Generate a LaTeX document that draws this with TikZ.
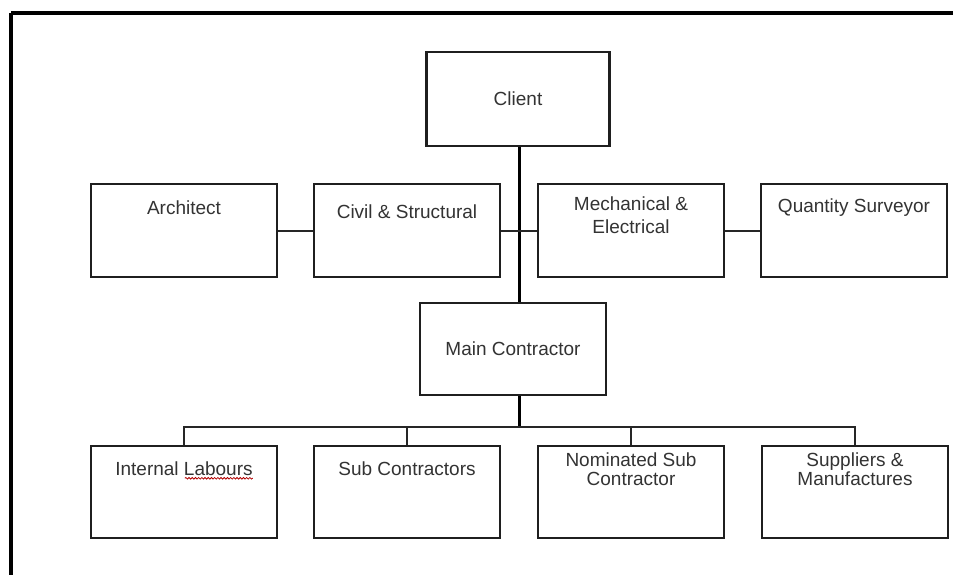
\documentclass[tikz,border=0pt]{standalone}
\usepackage{fontspec}
\setmainfont{Liberation Sans}
\usetikzlibrary{decorations.pathmorphing,calc}
\begin{document}
\begin{tikzpicture}[x=1pt,y=-1pt,
 box/.style={draw=black!88, line width=2.4pt, minimum width=186pt, minimum height=93pt, inner sep=0pt},
 lbl/.style={font=\fontsize{19}{23}\selectfont, text=black!80, align=center, inner sep=0pt},
 tight/.style={font=\fontsize{19}{19.5}\selectfont},
 conn/.style={draw=black!85, line width=2pt},
 trunkline/.style={draw=black, line width=3pt},
 frameline/.style={draw=black, line width=4pt},
 squiggle/.style={draw=red!70!black, line width=0.8pt, decorate, decoration={snake, amplitude=0.8pt, segment length=3.2pt}}]
\useasboundingbox (0,0) rectangle (953,575);
\fill[white] (0,0) rectangle (953,575);
% frame
\coordinate (fTL) at (11,13);
\coordinate (fTR) at (953,13);
\coordinate (fBL) at (11,575);
\draw[frameline] (fTR) -- (fTL);
\draw[frameline, line width=3.4pt] (fTL) -- (fBL);
% boxes
\node[box, minimum width=183pt, minimum height=94pt, lbl] (client) at (518,99) {Client};
\node[box] (arch) at (184,230.5) {};
\node[box] (civil) at (407,230.5) {};
\node[box] (mech) at (631,230.5) {};
\node[box] (qs) at (854,230.5) {};
\node[box, minimum height=92pt, lbl] (main) at (513,349) {Main Contractor};
\node[box, minimum height=92pt] (il) at (184,492) {};
\node[box, minimum height=92pt] (sc) at (407,492) {};
\node[box, minimum height=92pt] (ns) at (631,492) {};
\node[box, minimum height=92pt] (sm) at (855,492) {};
% labels
\node[lbl] (archt) at (184,208) {Architect};
\node[lbl] (civilt) at (407,212) {Civil \& Structural};
\node[lbl] (mecht) at (631,215) {Mechanical \&\\Electrical};
\node[lbl] (qst) at (854,208) {Quantity Surveyor};
\node[lbl] (ilt) at (184,469) {Internal Labours};
\node[lbl] (sct) at (407,469) {Sub Contractors};
\node[lbl, tight] (nst) at (631,469) {Nominated Sub\\Contractor};
\node[lbl, tight] (smt) at (855,469) {Suppliers \&\\Manufactures};
\draw[squiggle] ($(ilt.base east)+(-68,2.5)$) -- ($(ilt.base east)+(0,2.5)$);
% connectors
\coordinate (junc) at (519,427);
\draw[trunkline] (client.south -| junc) -- (main.north -| junc);
\draw[trunkline] (main.south -| junc) -- (junc);
\draw[conn] (arch.east) -- (civil.west);
\draw[conn] (civil.east) -- (mech.west);
\draw[conn] (mech.east) -- (qs.west);
\draw[conn] (il.north) -- (il.north |- junc) -- (sm.north |- junc) -- (sm.north);
\draw[conn] (sc.north) -- (sc.north |- junc);
\draw[conn] (ns.north) -- (ns.north |- junc);
\end{tikzpicture}
\end{document}
